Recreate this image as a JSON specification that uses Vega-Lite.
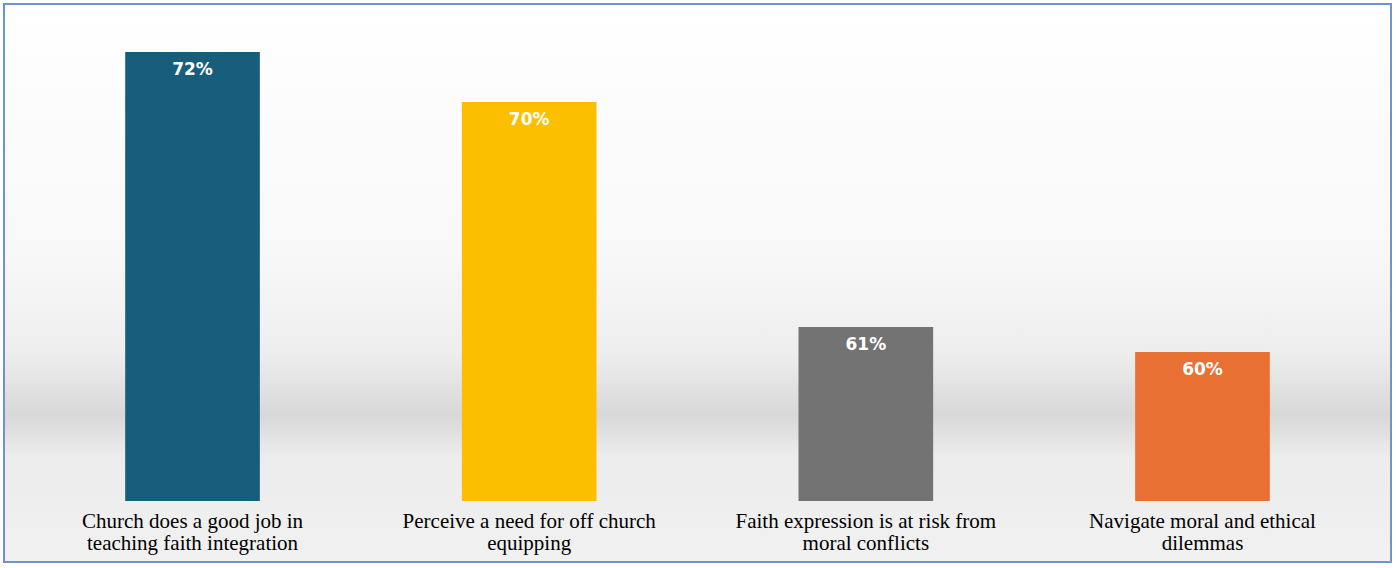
{
  "$schema": "https://vega.github.io/schema/vega-lite/v6.json",
  "width": 1387,
  "height": 558,
  "autosize": "none",
  "padding": {"left": 4, "top": 4, "right": 5, "bottom": 6},
  "background": "white",
  "config": {
    "view": {
      "stroke": "#6f93cc",
      "strokeWidth": 2,
      "fill": {
        "gradient": "linear",
        "x1": 0, "y1": 0, "x2": 0, "y2": 1,
        "stops": [
          {"offset": 0, "color": "#ffffff"},
          {"offset": 0.45, "color": "#f8f8f8"},
          {"offset": 0.63, "color": "#ededed"},
          {"offset": 0.735, "color": "#d8d8d8"},
          {"offset": 0.81, "color": "#ececec"},
          {"offset": 1, "color": "#f1f1f1"}
        ]
      }
    }
  },
  "data": {
    "values": [
      {"item": "Church does a good job in|teaching faith integration", "pct": 72, "label": "72%"},
      {"item": "Perceive a need for off church|equipping", "pct": 70, "label": "70%"},
      {"item": "Faith expression is at risk from|moral conflicts", "pct": 61, "label": "61%"},
      {"item": "Navigate moral and ethical|dilemmas", "pct": 60, "label": "60%"}
    ]
  },
  "encoding": {
    "x": {
      "field": "item",
      "type": "nominal",
      "sort": null,
      "axis": null,
      "scale": {"paddingInner": 0.6, "paddingOuter": 0.36}
    }
  },
  "layer": [
    {
      "mark": {"type": "bar"},
      "encoding": {
        "y": {
          "field": "pct",
          "type": "quantitative",
          "axis": null,
          "scale": {"domain": [51.6, 73.92], "zero": false, "nice": false}
        },
        "y2": {"datum": 54.04},
        "color": {
          "field": "item",
          "type": "nominal",
          "sort": null,
          "legend": null,
          "scale": {"range": ["#185d7c", "#fbbf00", "#737373", "#e87033"]}
        }
      }
    },
    {
      "mark": {
        "type": "text",
        "font": "DejaVu Sans",
        "fontWeight": "bold",
        "fontSize": 17,
        "color": "white",
        "baseline": "middle",
        "dy": 18
      },
      "encoding": {
        "y": {"field": "pct", "type": "quantitative"},
        "text": {"field": "label"}
      }
    },
    {
      "mark": {
        "type": "text",
        "font": "'Liberation Serif', 'DejaVu Serif', serif",
        "fontSize": 21,
        "color": "black",
        "baseline": "alphabetic",
        "lineBreak": "|",
        "lineHeight": 22,
        "dy": 27
      },
      "encoding": {
        "y": {"datum": 54.04},
        "text": {"field": "item"}
      }
    }
  ]
}
